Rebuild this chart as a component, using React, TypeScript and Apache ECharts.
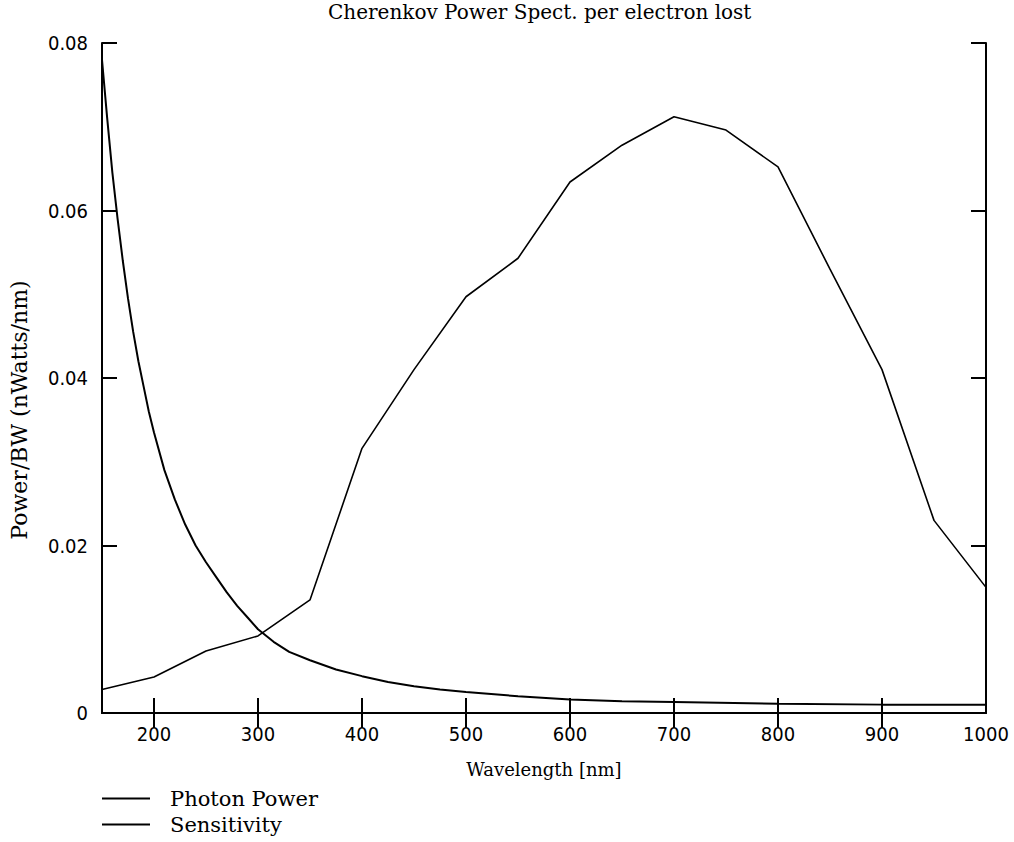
import React, { useEffect, useRef } from "react";
import * as echarts from "echarts";

const titleText = "Cherenkov Power Spect. per electron lost";
const xName = "Wavelength [nm]";
const yName = "Power/BW (nWatts/nm)";

const photonWavelengths = [150, 155, 160, 165, 170, 175, 180, 185, 190, 195, 200, 210, 220, 230, 240, 250, 260, 270, 280, 290, 300, 315, 330, 350, 375, 400, 425, 450, 475, 500, 550, 600, 650, 700, 800, 900, 1000];
const photonPower = [0.078, 0.071, 0.0645, 0.059, 0.054, 0.0495, 0.0455, 0.042, 0.039, 0.036, 0.0335, 0.029, 0.0255, 0.0225, 0.02, 0.018, 0.0162, 0.0144, 0.0128, 0.0114, 0.01, 0.0085, 0.0073, 0.0063, 0.0052, 0.0044, 0.0037, 0.0032, 0.0028, 0.0025, 0.002, 0.0016, 0.0014, 0.0013, 0.0011, 0.001, 0.001];

const sensWavelengths = [150, 200, 250, 300, 350, 400, 450, 500, 550, 600, 650, 700, 750, 800, 850, 900, 950, 1000];
const sensitivity = [0.0028, 0.0043, 0.0074, 0.0092, 0.0135, 0.0316, 0.041, 0.0497, 0.0543, 0.0634, 0.0678, 0.0712, 0.0696, 0.0652, 0.053, 0.041, 0.023, 0.015];

const xTickValues = [200, 300, 400, 500, 600, 700, 800, 900];
const xLabelValues = [200, 300, 400, 500, 600, 700, 800, 900, 1000];

const serif = '"DejaVu Serif", serif';
const narrow = '"Liberation Sans Narrow", "DejaVu Sans Condensed", "DejaVu Sans", sans-serif';

export default function App() {
  const ref = useRef<HTMLDivElement>(null);
  useEffect(() => {
    if (!ref.current) return;
    const chart = echarts.init(ref.current, null, { renderer: "svg" });
    const axisLine = { show: true, lineStyle: { color: "#000", width: 2 } };
    const tickStyle = { color: "#000", width: 2 };
    const legendBase = {
      orient: "horizontal",
      left: 102,
      padding: 0,
      itemWidth: 48,
      itemHeight: 2,
      icon: "rect",
      textStyle: { fontFamily: serif, fontSize: 21, color: "#000", padding: [0, 0, 0, 15] },
    };
    chart.setOption({
      animation: false,
      backgroundColor: "#fff",
      title: {
        text: titleText,
        left: 328,
        top: 0,
        padding: [2, 0, 0, 0],
        textStyle: { fontFamily: serif, fontSize: 20, fontWeight: "normal", color: "#000" },
      },
      grid: { left: 102, right: 28, top: 43, bottom: 129, containLabel: false },
      legend: [
        { ...legendBase, top: 788, data: ["Photon Power"] },
        { ...legendBase, top: 814, data: ["Sensitivity"] },
      ],
      xAxis: [
        {
          type: "value",
          min: 150,
          max: 1000,
          position: "bottom",
          axisLine,
          axisTick: { show: true, inside: true, length: 15, lineStyle: tickStyle, customValues: xTickValues },
          axisLabel: {
            show: true,
            customValues: xLabelValues,
            color: "#000",
            fontSize: 20,
            fontFamily: narrow,
            margin: 11,
            formatter: (v: number) => String(v),
          },
          splitLine: { show: false },
          name: xName,
          nameLocation: "middle",
          nameGap: 47,
          nameTextStyle: { fontFamily: serif, fontSize: 18, color: "#000" },
        },
        {
          type: "value",
          min: 150,
          max: 1000,
          position: "top",
          axisLine,
          axisTick: { show: true, inside: true, length: 15, lineStyle: tickStyle, customValues: xTickValues },
          axisLabel: { show: false },
          splitLine: { show: false },
        },
      ],
      yAxis: [
        {
          type: "value",
          min: 0,
          max: 0.08,
          interval: 0.02,
          position: "left",
          axisLine,
          axisTick: { show: true, inside: true, length: 15, lineStyle: tickStyle },
          axisLabel: {
            color: "#000",
            fontSize: 20,
            fontFamily: narrow,
            margin: 14,
            formatter: (v: number) => (v === 0 ? "0" : v.toFixed(2)),
          },
          splitLine: { show: false },
        },
        {
          type: "value",
          min: 0,
          max: 0.08,
          interval: 0.02,
          position: "right",
          axisLine,
          axisTick: { show: true, inside: true, length: 15, lineStyle: tickStyle },
          axisLabel: { show: false },
          splitLine: { show: false },
        },
      ],
      graphic: [
        {
          type: "text",
          x: 19,
          y: 410,
          rotation: Math.PI / 2,
          style: {
            text: yName,
            font: '22px "DejaVu Serif", serif',
            fill: "#000",
            textAlign: "center",
            textVerticalAlign: "middle",
          },
        },
      ],
      series: [
        {
          name: "Photon Power",
          type: "line",
          xAxisIndex: 0,
          yAxisIndex: 0,
          showSymbol: false,
          data: photonWavelengths.map((w, i) => [w, photonPower[i]]),
          lineStyle: { color: "#000", width: 2 },
          itemStyle: { color: "#000" },
        },
        {
          name: "Sensitivity",
          type: "line",
          xAxisIndex: 0,
          yAxisIndex: 0,
          showSymbol: false,
          data: sensWavelengths.map((w, i) => [w, sensitivity[i]]),
          lineStyle: { color: "#000", width: 1.6 },
          itemStyle: { color: "#000" },
        },
      ],
    });
    return () => chart.dispose();
  }, []);
  return <div ref={ref} style={{ width: 1014, height: 842, position: "absolute", left: 0, top: 0 }} />;
}
